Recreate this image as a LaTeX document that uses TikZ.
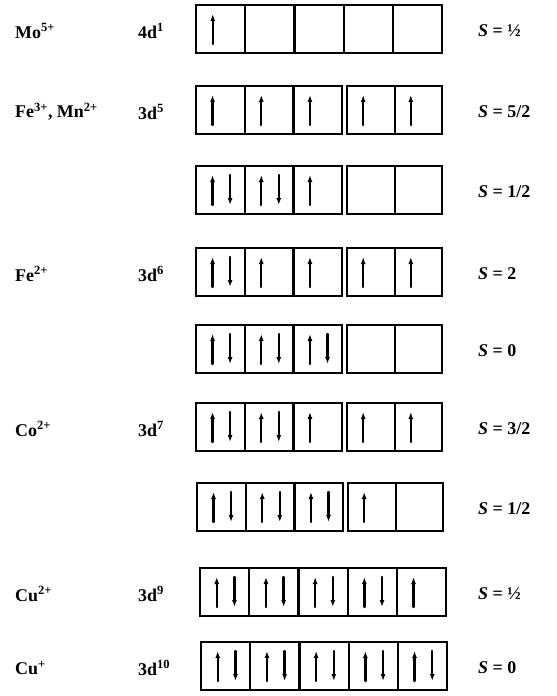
\documentclass[tikz,border=0pt]{standalone}
\usepackage{fontspec}
\setmainfont{Liberation Serif}
\usetikzlibrary{arrows.meta}

\begin{document}
\begin{tikzpicture}[x=1bp, y=-1bp,
  cellbox/.style={line width=2.2bp},
  spin/.style={line width=2.4bp, line cap=round, -{Latex[length=7bp,width=5bp]}},
  txt/.style={anchor=west, inner sep=0pt, font=\fontsize{18}{21}\selectfont\bfseries}]
  \useasboundingbox (0,0) rectangle (557,696);

  % orbital boxes: centre y / left x / split t2g-eg / spins per cell
  \foreach \cy/\xo/\sp/\spins in {29/196/0/{1,0,0,0,0}, 110/196/1/{1,1,1,1,1},
      190/196/1/{2,2,1,0,0}, 272/196/1/{2,1,1,1,1}, 349/196/1/{2,2,2,0,0},
      427/196/1/{2,2,1,1,1}, 507/197/1/{2,2,2,1,0}, 592/200/0/{2,2,2,2,1},
      666/201/0/{2,2,2,2,2}} {
    \foreach \s [count=\i] in \spins {
      \pgfmathsetmacro\W{\sp==0 ? 49.2 : (\i<4 ? 48.7 : 47.6)}
      \pgfmathsetmacro\L{\sp==0 ? \xo+(\i-1)*49.2 : (\i<4 ? \xo+(\i-1)*48.7 : \xo+151+(\i-4)*47.6)}
      \draw[cellbox] (\L,\cy-24) rectangle ++(\W,48);
      \ifnum\s>0 \draw[spin] (\L+0.34*\W,\cy+15) -- ++(0,-30); \fi
      \ifnum\s=2 \draw[spin] (\L+0.70*\W,\cy-15) -- ++(0,30); \fi
    }
  }

  \node[txt] (ionMo)   at (15,31)  {Mo\textsuperscript{5+}};
  \node[txt] (cfgMo)   at (138,31) {4d\textsuperscript{1}};
  \node[txt] (spinMo)  at (478,31) {\textit{S} = ½};

  \node[txt] (ionFe)   at (15,112)  {Fe\textsuperscript{3+}, Mn\textsuperscript{2+}};
  \node[txt] (cfgFe)   at (138,112) {3d\textsuperscript{5}};
  \node[txt] (spinFeH) at (478,112) {\textit{S} = 5/2};
  \node[txt] (spinFeL) at (478,192) {\textit{S} = 1/2};

  \node[txt] (ionFeII)  at (15,274)  {Fe\textsuperscript{2+}};
  \node[txt] (cfgFeII)  at (138,274) {3d\textsuperscript{6}};
  \node[txt] (spinFeIIH) at (478,274) {\textit{S} = 2};
  \node[txt] (spinFeIIL) at (478,351) {\textit{S} = 0};

  \node[txt] (ionCo)   at (15,429)  {Co\textsuperscript{2+}};
  \node[txt] (cfgCo)   at (138,429) {3d\textsuperscript{7}};
  \node[txt] (spinCoH) at (478,429) {\textit{S} = 3/2};
  \node[txt] (spinCoL) at (478,509) {\textit{S} = 1/2};

  \node[txt] (ionCuII)  at (15,594)  {Cu\textsuperscript{2+}};
  \node[txt] (cfgCuII)  at (138,594) {3d\textsuperscript{9}};
  \node[txt] (spinCuII) at (478,594) {\textit{S} = ½};

  \node[txt] (ionCuI)  at (15,668)  {Cu\textsuperscript{+}};
  \node[txt] (cfgCuI)  at (138,668) {3d\textsuperscript{10}};
  \node[txt] (spinCuI) at (478,668) {\textit{S} = 0};
\end{tikzpicture}
\end{document}
